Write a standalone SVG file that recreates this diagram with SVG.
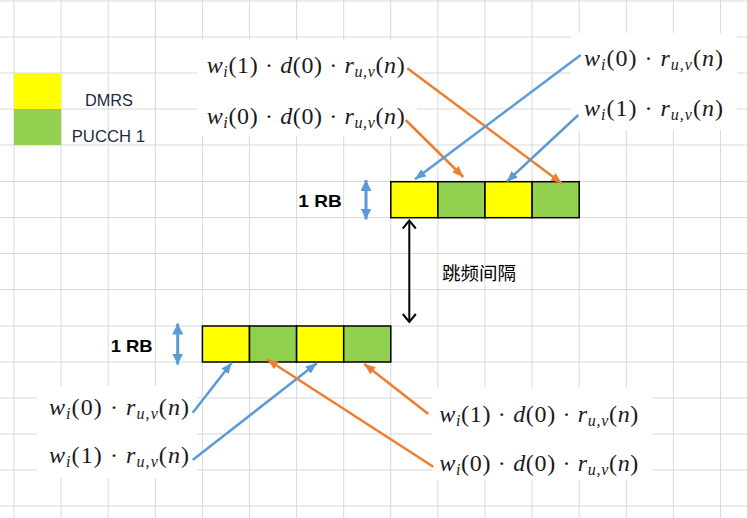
<svg xmlns="http://www.w3.org/2000/svg" width="747" height="518" viewBox="0 0 747 518">
<style>
.grid line{stroke:#d9d9d9;stroke-width:1}
.bg{fill:#ffffff}
.y{fill:#ffff00;stroke:#000;stroke-width:1.5}
.g{fill:#92d050;stroke:#000;stroke-width:1.5}
.lg{fill:#1f2a44;font-family:"Liberation Sans",Arial,sans-serif;font-size:17px}
.rb{fill:#000;font-family:"Liberation Sans",Arial,sans-serif;font-size:17px;font-weight:bold}
.cj{fill:#000;font-family:"Liberation Sans","Noto Sans CJK SC",sans-serif;font-size:18.5px}
.m{fill:#1a1a1a;font-family:"Liberation Serif","Times New Roman",serif;font-size:24px}
.i{font-style:italic}
.s{font-style:italic;font-size:16px}
.ab{stroke:#5b9bd5;stroke-width:2.5;fill:none}
.ao{stroke:#ed7d31;stroke-width:2.5;fill:none}
.vb{stroke:#5b9bd5;stroke-width:3;fill:none}
.vk{stroke:#000;stroke-width:2;fill:none}
</style>
<defs>
<marker id="hb" markerUnits="userSpaceOnUse" markerWidth="11" markerHeight="9" refX="11" refY="4.5" orient="auto"><path d="M0,0 L11,4.5 L0,9 z" fill="#5b9bd5"/></marker>
<marker id="ho" markerUnits="userSpaceOnUse" markerWidth="11" markerHeight="9" refX="11" refY="4.5" orient="auto"><path d="M0,0 L11,4.5 L0,9 z" fill="#ed7d31"/></marker>
<marker id="hv" markerUnits="userSpaceOnUse" markerWidth="11" markerHeight="11" refX="11" refY="5.5" orient="auto-start-reverse"><path d="M0,0 L11,5.5 L0,11 z" fill="#5b9bd5"/></marker>
<marker id="hk" markerUnits="userSpaceOnUse" markerWidth="12" markerHeight="16" refX="9" refY="7.5" orient="auto-start-reverse"><path d="M1,1 L9,7.5 L1,14" fill="none" stroke="#000" stroke-width="2"/></marker>
</defs>
<rect width="747" height="518" fill="#fff"/>
<g class="grid">
<line x1="0" y1="1" x2="747" y2="1"/><line x1="0" y1="37" x2="747" y2="37"/><line x1="0" y1="73" x2="747" y2="73"/><line x1="0" y1="109" x2="747" y2="109"/><line x1="0" y1="145" x2="747" y2="145"/><line x1="0" y1="181.5" x2="747" y2="181.5"/><line x1="0" y1="217.5" x2="747" y2="217.5"/><line x1="0" y1="253.5" x2="747" y2="253.5"/><line x1="0" y1="289.5" x2="747" y2="289.5"/><line x1="0" y1="326" x2="747" y2="326"/><line x1="0" y1="362" x2="747" y2="362"/><line x1="0" y1="398" x2="747" y2="398"/><line x1="0" y1="434" x2="747" y2="434"/><line x1="0" y1="470" x2="747" y2="470"/><line x1="0" y1="506" x2="747" y2="506"/>
<line x1="14" y1="0" x2="14" y2="518"/><line x1="61.1" y1="0" x2="61.1" y2="518"/><line x1="108.2" y1="0" x2="108.2" y2="518"/><line x1="155.3" y1="0" x2="155.3" y2="518"/><line x1="202.4" y1="0" x2="202.4" y2="518"/><line x1="249.5" y1="0" x2="249.5" y2="518"/><line x1="296.6" y1="0" x2="296.6" y2="518"/><line x1="343.7" y1="0" x2="343.7" y2="518"/><line x1="390.8" y1="0" x2="390.8" y2="518"/><line x1="437.9" y1="0" x2="437.9" y2="518"/><line x1="485" y1="0" x2="485" y2="518"/><line x1="532.1" y1="0" x2="532.1" y2="518"/><line x1="579.2" y1="0" x2="579.2" y2="518"/><line x1="626.3" y1="0" x2="626.3" y2="518"/><line x1="673.4" y1="0" x2="673.4" y2="518"/><line x1="720.5" y1="0" x2="720.5" y2="518"/>
</g>
<g id="legend">
<rect x="14" y="73" width="47.1" height="36" fill="#ffff00"/>
<rect x="14" y="109" width="47.1" height="36" fill="#92d050"/>
<text class="lg" x="85" y="106" textLength="48" lengthAdjust="spacingAndGlyphs">DMRS</text>
<text class="lg" x="71.7" y="142.3" textLength="73.3" lengthAdjust="spacingAndGlyphs">PUCCH 1</text>
</g>
<g id="formula-top-left">
<rect class="bg" x="197" y="40" width="220" height="96"/>
<text class="m" x="206.7" y="72.5" textLength="198" lengthAdjust="spacing"><tspan class="i">w</tspan><tspan class="s" dy="4">i</tspan><tspan dy="-4">(1) · </tspan><tspan class="i">d</tspan><tspan>(0) · </tspan><tspan class="i">r</tspan><tspan class="s" dy="4">u,v</tspan><tspan dy="-4">(</tspan><tspan class="i">n</tspan><tspan>)</tspan></text>
<text class="m" x="206.7" y="123.5" textLength="198" lengthAdjust="spacing"><tspan class="i">w</tspan><tspan class="s" dy="4">i</tspan><tspan dy="-4">(0) · </tspan><tspan class="i">d</tspan><tspan>(0) · </tspan><tspan class="i">r</tspan><tspan class="s" dy="4">u,v</tspan><tspan dy="-4">(</tspan><tspan class="i">n</tspan><tspan>)</tspan></text>
</g>
<g id="formula-top-right">
<rect class="bg" x="571" y="33" width="166" height="97"/>
<text class="m" x="584" y="65.5" textLength="139" lengthAdjust="spacing"><tspan class="i">w</tspan><tspan class="s" dy="4">i</tspan><tspan dy="-4">(0) · </tspan><tspan class="i">r</tspan><tspan class="s" dy="4">u,v</tspan><tspan dy="-4">(</tspan><tspan class="i">n</tspan><tspan>)</tspan></text>
<text class="m" x="584" y="115.5" textLength="139" lengthAdjust="spacing"><tspan class="i">w</tspan><tspan class="s" dy="4">i</tspan><tspan dy="-4">(1) · </tspan><tspan class="i">r</tspan><tspan class="s" dy="4">u,v</tspan><tspan dy="-4">(</tspan><tspan class="i">n</tspan><tspan>)</tspan></text>
</g>
<g id="formula-bottom-left">
<rect class="bg" x="37" y="386" width="160" height="92"/>
<text class="m" x="49" y="415" textLength="140" lengthAdjust="spacing"><tspan class="i">w</tspan><tspan class="s" dy="4">i</tspan><tspan dy="-4">(0) · </tspan><tspan class="i">r</tspan><tspan class="s" dy="4">u,v</tspan><tspan dy="-4">(</tspan><tspan class="i">n</tspan><tspan>)</tspan></text>
<text class="m" x="49" y="462.5" textLength="140" lengthAdjust="spacing"><tspan class="i">w</tspan><tspan class="s" dy="4">i</tspan><tspan dy="-4">(1) · </tspan><tspan class="i">r</tspan><tspan class="s" dy="4">u,v</tspan><tspan dy="-4">(</tspan><tspan class="i">n</tspan><tspan>)</tspan></text>
</g>
<g id="formula-bottom-right">
<rect class="bg" x="432" y="387" width="220" height="93"/>
<text class="m" x="439.3" y="421.5" textLength="199" lengthAdjust="spacing"><tspan class="i">w</tspan><tspan class="s" dy="4">i</tspan><tspan dy="-4">(1) · </tspan><tspan class="i">d</tspan><tspan>(0) · </tspan><tspan class="i">r</tspan><tspan class="s" dy="4">u,v</tspan><tspan dy="-4">(</tspan><tspan class="i">n</tspan><tspan>)</tspan></text>
<text class="m" x="439.3" y="471" textLength="199" lengthAdjust="spacing"><tspan class="i">w</tspan><tspan class="s" dy="4">i</tspan><tspan dy="-4">(0) · </tspan><tspan class="i">d</tspan><tspan>(0) · </tspan><tspan class="i">r</tspan><tspan class="s" dy="4">u,v</tspan><tspan dy="-4">(</tspan><tspan class="i">n</tspan><tspan>)</tspan></text>
</g>
<g id="rb-top">
<rect class="y" x="390.8" y="181.7" width="47.1" height="36"/>
<rect class="g" x="437.9" y="181.7" width="47.1" height="36"/>
<rect class="y" x="485" y="181.7" width="47.1" height="36"/>
<rect class="g" x="532.1" y="181.7" width="47.1" height="36"/>
<text class="rb" x="298.3" y="206.7" textLength="43.4" lengthAdjust="spacingAndGlyphs">1 RB</text>
</g>
<g id="rb-bottom">
<rect class="y" x="202.4" y="326" width="47.1" height="36"/>
<rect class="g" x="249.5" y="326" width="47.1" height="36"/>
<rect class="y" x="296.6" y="326" width="47.1" height="36"/>
<rect class="g" x="343.7" y="326" width="47.1" height="36"/>
<text class="rb" x="110.7" y="352.3" textLength="42" lengthAdjust="spacingAndGlyphs">1 RB</text>
</g>
<g id="hop-label">
<text class="cj" x="442" y="280">跳频间隔</text>
</g>
<g id="connectors">
<line class="vb" x1="366" y1="180" x2="366" y2="219.5" marker-start="url(#hv)" marker-end="url(#hv)"/>
<line class="vb" x1="177.7" y1="323.5" x2="177.7" y2="364.5" marker-start="url(#hv)" marker-end="url(#hv)"/>
<line class="vk" x1="409.3" y1="220.5" x2="409.3" y2="322" marker-start="url(#hk)" marker-end="url(#hk)"/>
<line class="ao" x1="407.3" y1="68.3" x2="561.7" y2="183.3" marker-end="url(#ho)"/>
<line class="ao" x1="405.7" y1="120" x2="463.3" y2="177" marker-end="url(#ho)"/>
<line class="ab" x1="580.7" y1="55" x2="415" y2="179.3" marker-end="url(#hb)"/>
<line class="ab" x1="578.3" y1="115" x2="506.7" y2="181.7" marker-end="url(#hb)"/>
<line class="ab" x1="192.7" y1="412.7" x2="231.7" y2="362.7" marker-end="url(#hb)"/>
<line class="ab" x1="192.7" y1="460" x2="316.7" y2="363.3" marker-end="url(#hb)"/>
<line class="ao" x1="428.3" y1="414" x2="364.3" y2="364" marker-end="url(#ho)"/>
<line class="ao" x1="433.3" y1="466.7" x2="267.3" y2="359.5" marker-end="url(#ho)"/>
</g>
</svg>
